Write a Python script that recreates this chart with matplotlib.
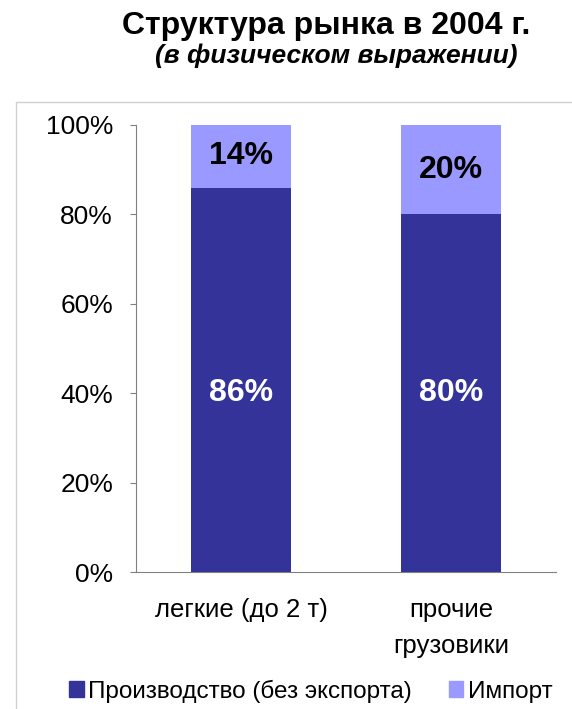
import matplotlib
matplotlib.use("Agg")
import matplotlib.pyplot as plt
from matplotlib.patches import Rectangle, Patch

plt.rcParams['font.family'] = ['Liberation Sans', 'DejaVu Sans']

categories = ["легкие (до 2 т)", "прочие\nгрузовики"]
production = [86, 80]
imports = [14, 20]
series_names = ["Производство (без экспорта)", "Импорт"]
yticks = [0, 20, 40, 60, 80, 100]

DARK = "#333399"
LIGHT = "#9999FF"

fig = plt.figure(figsize=(5.72, 7.09), dpi=100)

# outer frame (runs off the right/bottom edges)
fig.patches.append(Rectangle((16/572, -0.1), 1.0, 1 - 102/709 + 0.1,
                             transform=fig.transFigure, fill=False,
                             edgecolor="#d0d0d0", lw=1.0))

ax = fig.add_axes([136/572, 1 - 572/709, 420/572, 447/709])
x = range(len(categories))
ax.bar(x, production, width=0.48, color=DARK, label=series_names[0])
ax.bar(x, imports, width=0.48, bottom=production, color=LIGHT, label=series_names[1])

for i in x:
    ax.text(i, 40, f"{production[i]}%", ha="center", va="center",
            color="white", fontsize=23, fontweight="bold")
    ax.text(i, production[i] + imports[i] / 2, f"{imports[i]}%", ha="center",
            va="center", color="black", fontsize=23, fontweight="bold")

ax.set_xlim(-0.5, 1.5)
ax.set_ylim(0, 100)
ax.set_yticks(yticks)
ax.set_yticklabels([f"{v}%" for v in yticks], fontsize=19)
ax.set_xticks(list(x))
ax.set_xticklabels(categories, fontsize=18.5, linespacing=1.6)
ax.tick_params(axis="x", length=0, pad=19)
ax.tick_params(axis="y", direction="out", length=4, color="#808080", pad=12.5)
for s in ["top", "right"]:
    ax.spines[s].set_visible(False)
for s in ["left", "bottom"]:
    ax.spines[s].set_color("#808080")

fig.text(326/572, 1 - 26/709, "Структура рынка в 2004 г.", ha="center",
         va="center", fontsize=23, fontweight="bold")
fig.text(336/572, 1 - 56/709, "(в физическом выражении)", ha="center",
         va="center", fontsize=19, fontweight="bold", style="italic")

handles = [Patch(color=DARK), Patch(color=LIGHT)]
fig.legend(handles, series_names, loc="center left", ncol=2,
           bbox_to_anchor=(52/572, 1 - 691/709), frameon=False, fontsize=17.5,
           handlelength=0.6, handleheight=0.6, handletextpad=0.2,
           columnspacing=1.5, borderpad=0.2)

fig.savefig("out.png", dpi=100)
